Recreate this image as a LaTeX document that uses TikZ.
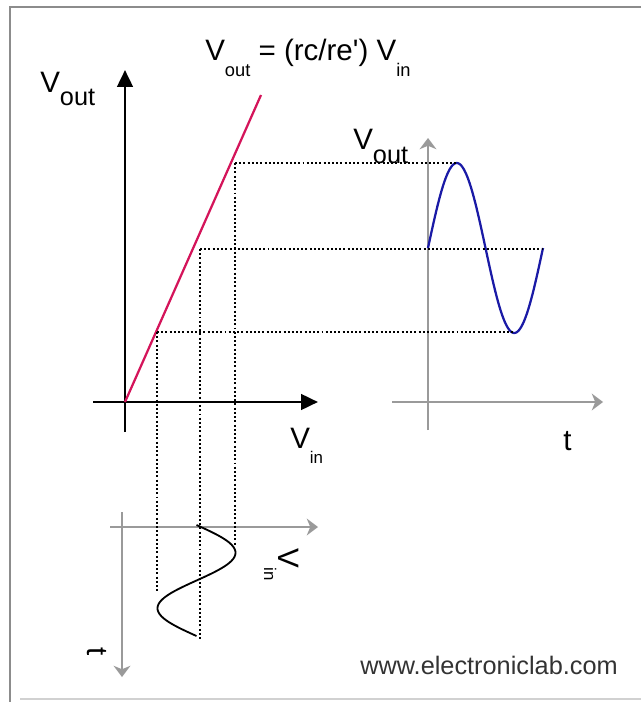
\documentclass[tikz,border=0pt]{standalone}
\usepackage{fontspec}
\setmainfont{Liberation Sans}
\usetikzlibrary{arrows.meta}
\definecolor{ecred}{HTML}{D4145A}
\definecolor{ecblue}{HTML}{1A1AA6}
\definecolor{ecgrey}{HTML}{9A9A9A}
\definecolor{ecframe}{HTML}{8C8C8C}
\newcommand{\bigfont}{\fontsize{21}{24}\selectfont}
\newcommand{\outfont}{\fontsize{18}{20}\selectfont}
\newcommand{\subfont}{\fontsize{13}{15}\selectfont}

\begin{document}
\begin{tikzpicture}[x=0.025cm, y=-0.025cm, font=\bigfont,
    mainaxis/.style={line width=2pt, -{Triangle[length=12pt,width=11pt]}},
    greyaxis/.style={ecgrey, line width=1.1pt, -{Stealth[length=8pt,width=12pt,inset=2.5pt]}},
    guide/.style={line width=1.5pt, dash pattern=on 1.4pt off 1.6pt},
    lbl/.style={anchor=base west, inner sep=0pt}]
  \useasboundingbox (0,0) rectangle (641,702);
  % frame
  \draw[ecframe, line width=1.2pt] (641,7) -- (10,7) -- (10,702);
  \draw[ecframe!40, line width=0.8pt] (20,699) -- (641,699);
  % transfer graph
  \begin{scope}
    \coordinate (org) at (125,402);
    \coordinate (hiIn) at (235,163);
    \coordinate (midIn) at (200,249);
    \coordinate (loIn) at (157,332);
    \draw[mainaxis] (125,432) -- (125,70);
    \draw[mainaxis] (93,402) -- (318,402);
    \draw[ecred, line width=1.6pt] (org) -- (261,95);
    \node[lbl] (voutA) at (40,93) {V\raisebox{-0.3cm}{\outfont out}};
    \node[lbl] (vinA) at (290,448) {V\raisebox{-0.375cm}{\fontsize{12}{14}\selectfont in}};
    \node[lbl] (gain) at (205,61) {V\raisebox{-0.375cm}{\subfont out} = (rc/re\textquotesingle) V\raisebox{-0.375cm}{\subfont in}};
  \end{scope}
  % output wave
  \begin{scope}
    \coordinate (hiOut) at (456,163);
    \coordinate (midOut) at (543,249);
    \coordinate (loOut) at (513,332);
    \draw[greyaxis] (428,430) -- (428,138);
    \draw[greyaxis] (392,402) -- (603,402);
    \draw[ecblue, line width=1.6pt, domain=0:115, samples=80, smooth]
      plot ({428+\x}, {248-85*sin(3.1304*\x)});
    \node[lbl] (voutB) at (353,150) {V\raisebox{-0.325cm}{\outfont out}};
    \node[lbl] (tB) at (563,450) {t};
  \end{scope}
  % input wave
  \begin{scope}
    \coordinate (hiEnd) at (235,545);
    \coordinate (midEnd) at (200,640);
    \coordinate (loEnd) at (157,592);
    \draw[greyaxis] (110,527) -- (318,527);
    \draw[greyaxis] (122,512) -- (122,677);
    \draw[line width=1.3pt, domain=0:111, samples=80, smooth]
      plot ({196.5+39*sin(3.2432*\x)}, {525+\x});
    \node[lbl, rotate=-90] (vinC) at (278,548) {V\raisebox{-0.35cm}{\fontsize{12}{14}\selectfont in}};
    \node[lbl, rotate=-90] (tC) at (87,647) {t};
  \end{scope}
  % projection lines
  \foreach \a/\b in {hiIn/hiOut, midIn/midOut, loIn/loOut, hiIn/hiEnd, midIn/midEnd, loIn/loEnd}
    \draw[guide] (\a) -- (\b);
  \node[lbl, font=\fontsize{18}{20}\selectfont, text=black!80] (site) at (360,674) {www.electroniclab.com};
\end{tikzpicture}
\end{document}
